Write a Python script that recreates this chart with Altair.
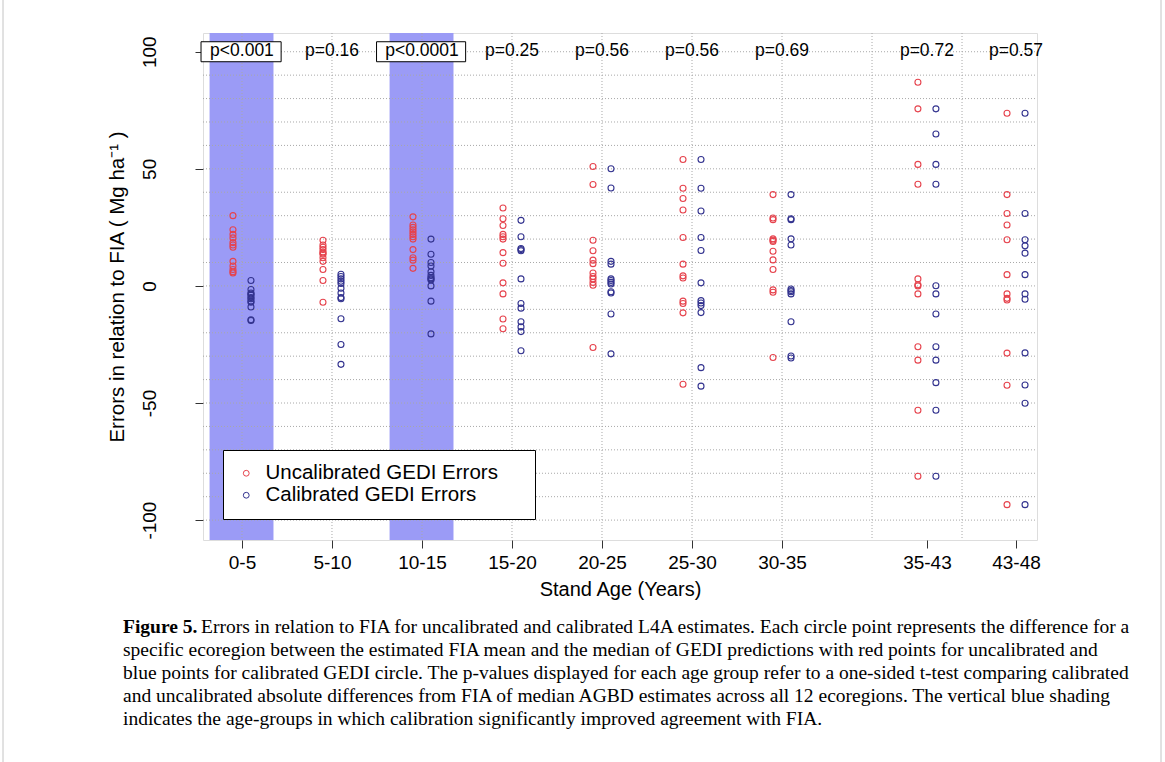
import altair as alt
import pandas as pd

# ---------------- data ----------------
age_groups = ["0-5", "5-10", "10-15", "15-20", "20-25", "25-30", "30-35", "35-43", "43-48"]
group_x = [1, 2, 3, 4, 5, 6, 7, 8.61, 9.6]
p_labels = ["p<0.001", "p=0.16", "p<0.0001", "p=0.25", "p=0.56", "p=0.56", "p=0.69", "p=0.72", "p=0.57"]
significant = [True, False, True, False, False, False, False, False, False]

uncalibrated = {
    "0-5":   [30, 24, 22, 20.5, 18.5, 17.5, 16.5, 10.5, 8.5, 7, 6, 5.5],
    "5-10":  [19.5, 17.5, 16.5, 15.5, 14.5, 14, 13.5, 12, 10.5, 7, 2.3, -7],
    "10-15": [29.5, 26, 25, 24, 23, 22, 21, 20, 15.5, 12, 11, 7.5],
    "15-20": [33.3, 28.7, 25.8, 22, 21, 20, 14.2, 9.7, 1.3, -3.4, -14.1, -18.3],
    "20-25": [51, 43.3, 19.5, 15, 11, 9.5, 5.5, 4, 3, 1.5, 0.3, -26.3],
    "25-30": [54, 41.7, 37.3, 32.4, 20.7, 9.3, 4.3, 3.4, -6.5, -7.5, -11.5, -42],
    "30-35": [39, 29, 28.3, 20.1, 19.5, 19, 14.8, 11.1, 7, -1.7, -2.7, -30.6],
    "35-43": [87, 75.6, 51.9, 43.4, 3, 0.5, 0, -3.4, -26, -31.7, -53.1, -81.3],
    "43-48": [73.7, 39, 30.9, 26, 19.7, 4.8, -3.4, -5.3, -6, -28.7, -42.4, -93.4],
}
calibrated = {
    "0-5":   [2.3, -1.5, -3, -3.5, -4, -5, -5.5, -6.5, -7, -9, -14.5, -14.8],
    "5-10":  [5, 4, 3, 2, 1, -1, -3, -5, -5.5, -14, -25, -33.5],
    "10-15": [20, 13.5, 10, 8.5, 6, 4.5, 3.5, 3, 2.5, 0, -6.5, -20.5],
    "15-20": [28, 21, 16, 15.5, 15, 3, -7.5, -9.5, -15.3, -17.5, -19.5, -27.7],
    "20-25": [50, 41.8, 10.5, 9.3, 3, 2.3, 1.5, 0.8, -2.5, -3, -12, -29],
    "25-30": [54, 41.7, 32, 20.7, 15.1, 1.3, -6.3, -7.3, -8.4, -11.4, -34.9, -42.8],
    "30-35": [39, 28.7, 28.3, 20.1, 17.5, -1.3, -2, -2.5, -3.4, -15.3, -29.9, -30.8],
    "35-43": [75.6, 64.9, 51.9, 43.4, 0.1, -3.4, -12, -26, -31.7, -41.3, -53.1, -81.3],
    "43-48": [73.7, 30.9, 19.7, 17.1, 14, 4.8, -3.4, -5.7, -28.6, -42.3, -50.1, -93.4],
}

series_names = ["Uncalibrated GEDI Errors", "Calibrated GEDI Errors"]
series_colors = ["#e6434d", "#33338f"]

y_ticks = [-100, -50, 0, 50, 100]
grid_x = [1, 2, 3, 4, 5, 6, 7, 8, 9]
grid_y = list(range(-100, 101, 10))
p_label_y = 100

caption_bold = "Figure 5."
caption_first = "Errors in relation to FIA for uncalibrated and calibrated L4A estimates. Each circle point represents the difference for a"
caption_rest = [
    "specific ecoregion between the estimated FIA mean and the median of GEDI predictions with red points for uncalibrated and",
    "blue points for calibrated GEDI circle. The p-values displayed for each age group refer to a one-sided t-test comparing calibrated",
    "and uncalibrated absolute differences from FIA of median AGBD estimates across all 12 ecoregions. The vertical blue shading",
    "indicates the age-groups in which calibration significantly improved agreement with FIA.",
]

# ---------------- tables ----------------
rows = []
for g, gx in zip(age_groups, group_x):
    for v in uncalibrated[g]:
        rows.append({"group": g, "x": gx, "y": v, "series": series_names[0]})
    for v in calibrated[g]:
        rows.append({"group": g, "x": gx, "y": v, "series": series_names[1]})
points = pd.DataFrame(rows)

groups = pd.DataFrame({"group": age_groups, "x": group_x, "label": p_labels, "sig": significant})
gx_df = pd.DataFrame({"x": grid_x})
gy_df = pd.DataFrame({"y": grid_y})

# ---------------- layout ----------------
W, H = 834, 507
FONT = "Liberation Sans"
SERIF = "Liberation Serif"

xscale = alt.Scale(domain=[0.567, 9.833], nice=False, zero=False)
yscale = alt.Scale(domain=[-108.5, 108], nice=False, zero=False)

label_expr = " : ".join(
    f"abs(datum.value - {x}) < 0.01 ? '{g}'" for x, g in zip(group_x, age_groups)
) + " : ''"

xaxis = alt.Axis(values=group_x, labelExpr=label_expr, grid=False, domain=False,
                 tickSize=8, tickColor="#333333", labelFontSize=19, labelFont=FONT,
                 labelColor="black", labelPadding=5, titleFont=FONT, titleFontSize=20,
                 titleFontWeight="normal", titleColor="black", titlePadding=7)
yaxis = alt.Axis(values=y_ticks, labelExpr="datum.value + ''", grid=False, domain=False,
                 tickSize=8, tickColor="#333333",
                 labelAngle=270, labelAlign="center", labelBaseline="bottom",
                 labelFontSize=19, labelFont=FONT, labelColor="black", labelPadding=36,
                 titleFont=FONT, titleFontSize=20.5, titleFontWeight="normal",
                 titleColor="black", titlePadding=13)

XT = "Stand Age (Years)"
YT = "Errors in relation to FIA ( Mg ha\u207b\u00b9 )"


def X(f):
    return alt.X(f"{f}:Q", scale=xscale, axis=xaxis, title=XT)


def Y(f):
    return alt.Y(f"{f}:Q", scale=yscale, axis=yaxis, title=YT)


band = alt.Chart(groups).transform_filter("datum.sig").transform_calculate(
    x1="datum.x - 0.36", x2="datum.x + 0.35"
).mark_rect(color="#9b9bf6").encode(
    x=X("x1"), x2="x2:Q", y=alt.value(0), y2=alt.value(H)
)

grid_v = alt.Chart(gx_df).mark_rule(color="#a8a8a8", strokeDash=[1, 2], strokeWidth=1).encode(
    x=X("x"), y=alt.value(0), y2=alt.value(H)
)
grid_h = alt.Chart(gy_df).mark_rule(color="#a8a8a8", strokeDash=[1, 2], strokeWidth=1).encode(
    y=Y("y"), x=alt.value(0), x2=alt.value(W)
)

pbox = alt.Chart(groups).transform_filter("datum.sig").transform_calculate(
    bx1="datum.x - 0.05 * length(datum.label) - 0.105",
    bx2="datum.x + 0.05 * length(datum.label) + 0.085",
).mark_rect(fill="white", stroke="black", strokeWidth=1, yOffset=-10, y2Offset=10).encode(
    x=X("bx1"), x2="bx2:Q", y=alt.datum(p_label_y), y2=alt.datum(p_label_y)
)

ptext = alt.Chart(groups).mark_text(font=FONT, fontSize=17.5, color="black", baseline="middle",
                                    align="center", yOffset=-1).encode(
    x=X("x"), y=alt.datum(p_label_y), text="label:N"
)

color = alt.Color("series:N", scale=alt.Scale(domain=series_names, range=series_colors),
                  legend=alt.Legend(orient="none", legendX=20, legendY=417,
                                    title="\u00a0", titleOrient="right",
                                    titleFontSize=19, titlePadding=24,
                                    fillColor="white", strokeColor="black", padding=13,
                                    labelFont=FONT, labelFontSize=20.5, labelColor="black",
                                    labelOffset=9, rowPadding=1, symbolSize=34,
                                    symbolStrokeWidth=1, symbolType="circle",
                                    labelLimit=400))

pts_u = alt.Chart(points).transform_filter(
    alt.datum.series == series_names[0]
).mark_point(filled=False, size=36, strokeWidth=1.1, opacity=1, xOffset=-9).encode(
    x=X("x"), y=Y("y"), color=color
)
pts_c = alt.Chart(points).transform_filter(
    alt.datum.series == series_names[1]
).mark_point(filled=False, size=36, strokeWidth=1.1, opacity=1, xOffset=9).encode(
    x=X("x"), y=Y("y"), color=color
)

CAP = 19.5
cap_b = alt.Chart(pd.DataFrame({"t": [caption_bold]})).mark_text(
    font=SERIF, fontSize=CAP, fontWeight="bold", align="left", baseline="middle", color="black"
).encode(text="t:N", x=alt.value(-80), y=alt.value(594))
cap_1 = alt.Chart(pd.DataFrame({"t": [caption_first]})).mark_text(
    font=SERIF, fontSize=CAP, align="left", baseline="middle", color="black"
).encode(text="t:N", x=alt.value(-2), y=alt.value(594))
cap_r = alt.Chart(pd.DataFrame({"t": ["\n".join(caption_rest)]})).mark_text(
    font=SERIF, fontSize=CAP, align="left", baseline="middle", color="black",
    lineBreak="\n", lineHeight=23
).encode(text="t:N", x=alt.value(-80), y=alt.value(617))

# thin frame lines at the left and right edges of the figure panel
edge_l = alt.Chart(pd.DataFrame({"s": [0]})).mark_rule(color="#c4c4c4", strokeWidth=1).encode(
    x=alt.value(-200), y=alt.value(-33), y2=alt.value(729)
)
edge_r = alt.Chart(pd.DataFrame({"s": [0]})).mark_rule(color="#c4c4c4", strokeWidth=1).encode(
    x=alt.value(958), y=alt.value(-33), y2=alt.value(729)
)

chart = alt.layer(
    band, grid_v, grid_h, pbox, ptext, pts_u, pts_c, cap_b, cap_1, cap_r, edge_l, edge_r
).properties(
    width=W, height=H,
    autosize=alt.AutoSizeParams(type="none"),
    padding={"left": 203, "top": 33, "right": 128, "bottom": 222},
).configure_view(
    stroke="#444444", strokeWidth=1.3
).configure(background="white")

chart.save("out.html", embed_options={"renderer": "svg", "actions": False})
